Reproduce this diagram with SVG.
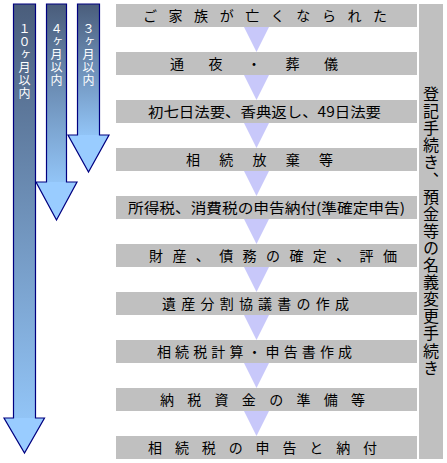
<svg xmlns="http://www.w3.org/2000/svg" width="447" height="463" viewBox="0 0 447 463">
<defs>
<linearGradient id="shaft" x1="0" y1="0" x2="0" y2="1">
<stop offset="0" stop-color="#4a5d7b"/>
<stop offset="1" stop-color="#92c4f6"/>
</linearGradient>
<style>
.box{fill:#c0c0c0}
.tri{fill:#c8c8fa}
.t{font-family:"Noto Sans CJK JP","Noto Sans CJK SC",sans-serif;font-size:14px;fill:#000}
.head{fill:#99ccff}
.outline{fill:none;stroke:#000080;stroke-width:1.2;stroke-linejoin:miter}
.vt{font-family:"Noto Sans CJK JP","Noto Sans CJK SC",sans-serif;font-size:12px;fill:#fff;writing-mode:vertical-rl;letter-spacing:0.8px}
.vr{font-family:"Noto Sans CJK JP","Noto Sans CJK SC",sans-serif;font-size:16px;fill:#000;writing-mode:vertical-rl;letter-spacing:1.1px}
</style>
</defs>
<rect width="447" height="463" fill="#fff"/>

<g id="arrow10">
<rect x="13.5" y="4" width="22" height="414" fill="url(#shaft)"/>
<polygon class="head" points="4,418 44.5,418 24.5,453"/>
<path class="outline" d="M13.5,4 H35.5 V418 H44.5 L24.5,453 L4,418 H13.5 Z"/>
<text class="vt" x="24.5" y="23">１０ヶ月以内</text>
</g>
<g id="arrow4">
<rect x="46.5" y="4" width="20" height="178" fill="url(#shaft)"/>
<polygon class="head" points="36,182 77,182 56.5,220"/>
<path class="outline" d="M46.5,4 H66.5 V182 H77 L56.5,220 L36,182 H46.5 Z"/>
<text class="vt" x="56.5" y="23">４ヶ月以内</text>
</g>
<g id="arrow3">
<rect x="77.5" y="4" width="22" height="131" fill="url(#shaft)"/>
<polygon class="head" points="68,135 109,135 88.5,172"/>
<path class="outline" d="M77.5,4 H99.5 V135 H109 L88.5,172 L68,135 H77.5 Z"/>
<text class="vt" x="88.5" y="23">３ヶ月以内</text>
</g>

<g id="connectors">
<polygon class="tri" points="244,27 269,27 256.5,52"/>
<polygon class="tri" points="244,75 269,75 256.5,100"/>
<polygon class="tri" points="244,123 269,123 256.5,148"/>
<polygon class="tri" points="244,171 269,171 256.5,196"/>
<polygon class="tri" points="244,219 269,219 256.5,244"/>
<polygon class="tri" points="244,267 269,267 256.5,292"/>
<polygon class="tri" points="244,315 269,315 256.5,340"/>
<polygon class="tri" points="244,363 269,363 256.5,388"/>
<polygon class="tri" points="244,411 269,411 256.5,436"/>
</g>

<g id="step1"><rect class="box" x="116" y="4" width="301" height="23"/>
<text class="t" x="143" y="21" textLength="244" lengthAdjust="spacing">ご家族が亡くなられた</text></g>
<g id="step2"><rect class="box" x="116" y="52" width="301" height="23"/>
<text class="t" x="170" y="69" textLength="168" lengthAdjust="spacing">通夜・葬儀</text></g>
<g id="step3"><rect class="box" x="116" y="100" width="301" height="23"/>
<text class="t" x="148" y="117" textLength="233" lengthAdjust="spacingAndGlyphs">初七日法要、香典返し、49日法要</text></g>
<g id="step4"><rect class="box" x="116" y="148" width="301" height="23"/>
<text class="t" x="186" y="165" textLength="147" lengthAdjust="spacing">相続放棄等</text></g>
<g id="step5"><rect class="box" x="116" y="196" width="301" height="23"/>
<text class="t" x="128" y="213" textLength="277" lengthAdjust="spacingAndGlyphs">所得税、消費税の申告納付(準確定申告)</text></g>
<g id="step6"><rect class="box" x="116" y="244" width="301" height="23"/>
<text class="t" x="149" y="261" textLength="248" lengthAdjust="spacing">財産、債務の確定、評価</text></g>
<g id="step7"><rect class="box" x="116" y="292" width="301" height="23"/>
<text class="t" x="162" y="309" textLength="187" lengthAdjust="spacing">遺産分割協議書の作成</text></g>
<g id="step8"><rect class="box" x="116" y="340" width="301" height="23"/>
<text class="t" x="157" y="357" textLength="195" lengthAdjust="spacing">相続税計算・申告書作成</text></g>
<g id="step9"><rect class="box" x="116" y="388" width="301" height="23"/>
<text class="t" x="160" y="405" textLength="205" lengthAdjust="spacing">納税資金の準備等</text></g>
<g id="step10"><rect class="box" x="116" y="436" width="301" height="23"/>
<text class="t" x="148" y="453" textLength="229" lengthAdjust="spacing">相続税の申告と納付</text></g>

<g id="side"><rect class="box" x="419" y="4" width="24" height="455"/>
<text class="vr" x="431" y="86">登記手続き、預金等の名義変更手続き</text></g>
</svg>
